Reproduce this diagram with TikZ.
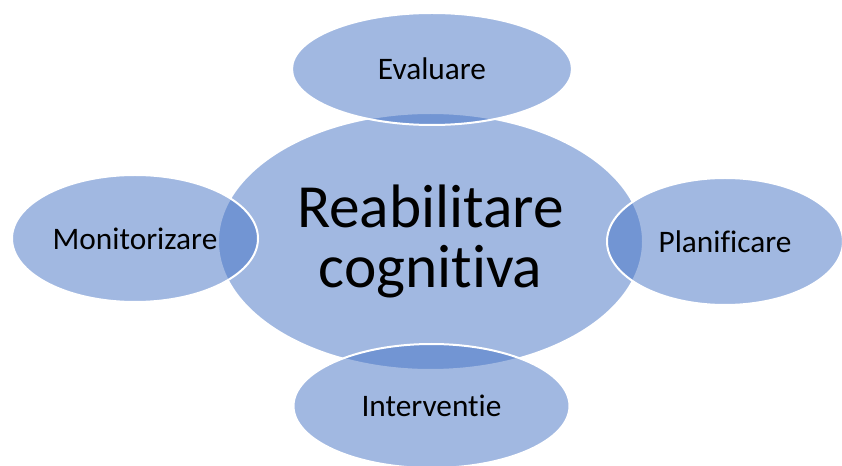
\documentclass[tikz,border=0pt]{standalone}
\usepackage{fontspec}
\setmainfont{Carlito}[Ligatures={NoCommon}]
\usepackage{tikz}
\usetikzlibrary{shapes.geometric}
\definecolor{cyc}{HTML}{4472C4}

\begin{document}
\begin{tikzpicture}[x=0.75pt, y=-0.75pt,
  elp/.style={ellipse, draw=white, line width=1.5pt, fill=cyc, fill opacity=0.5, text opacity=1, inner sep=0pt, font=\fontsize{23.5}{28}\selectfont},
  hub/.style={elp, align=center, font=\fontsize{46}{45}\selectfont}]
\useasboundingbox (0,0) rectangle (842,466);
\node[hub, minimum width=318.75pt, minimum height=192.75pt] (reab) at (430.5,241.5) {Reabilitare\\cognitiva};
\node[elp, minimum width=210pt, minimum height=84pt] (eval) at (432,69) {Evaluare};
\node[elp, minimum width=207pt, minimum height=93pt] (interv) at (431.5,406) {Interventie};
\node[elp, minimum width=184.5pt, minimum height=95.25pt] (monit) at (135,238.5) {Monitorizare};
\node[elp, minimum width=177pt, minimum height=95.25pt] (plan) at (725,241.5) {Planificare};
\end{tikzpicture}
\end{document}
